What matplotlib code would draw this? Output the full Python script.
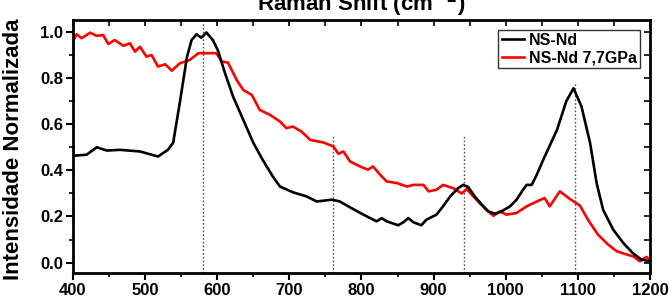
import matplotlib
matplotlib.use("Agg")
import matplotlib.pyplot as plt
from matplotlib.ticker import MultipleLocator

plt.rcParams['font.family'] = ['Liberation Sans', 'DejaVu Sans']

# NS-Nd (black)
x_black = [400, 419, 433, 447, 465, 493, 518, 532, 539, 548, 558, 564.5, 571.5, 578, 585,
           594, 601, 611, 622, 636, 650, 663, 677, 687, 705, 724, 738, 759, 770, 784,
           798, 809, 821, 828, 835, 851, 858, 865, 872, 883, 890, 904, 913, 923, 934,
           941, 948, 957, 967, 976, 985, 994, 1006, 1015, 1024, 1029, 1036, 1043, 1052,
           1071, 1084, 1094, 1105, 1117, 1126, 1135, 1149, 1163, 1176, 1188, 1200]
y_black = [0.463, 0.468, 0.50, 0.486, 0.489, 0.482, 0.46, 0.49, 0.52, 0.69, 0.89, 0.965, 0.99,
           0.975, 0.998, 0.965, 0.92, 0.82, 0.72, 0.62, 0.52, 0.446, 0.374, 0.33, 0.305,
           0.287, 0.265, 0.273, 0.265, 0.24, 0.216, 0.198, 0.179, 0.193, 0.179, 0.162,
           0.175, 0.193, 0.175, 0.162, 0.186, 0.208, 0.244, 0.287, 0.323, 0.337, 0.328,
           0.287, 0.251, 0.222, 0.212, 0.222, 0.244, 0.273, 0.316, 0.337, 0.337, 0.381,
           0.446, 0.575, 0.70, 0.756, 0.677, 0.518, 0.345, 0.229, 0.143, 0.085, 0.042,
           0.013, 0.006]

# NS-Nd 7,7GPa (red)
x_red = [400, 405, 412, 424, 433, 442, 449, 458, 470, 479, 486, 493, 502, 509, 518, 528,
         537, 548, 562, 574, 585, 599, 606, 615, 627, 636, 648, 659, 673, 687, 696, 705,
         717, 729, 747, 761, 768, 775, 784, 798, 809, 816, 826, 835, 849, 863, 872, 886,
         893, 904, 913, 927, 939, 946, 955, 964, 973, 983, 992, 1001, 1015, 1029, 1043,
         1054, 1061, 1075, 1089, 1103, 1114, 1128, 1142, 1154, 1168, 1177, 1186, 1195, 1200]
y_red = [0.958, 0.99, 0.973, 0.997, 0.983, 0.987, 0.948, 0.965, 0.94, 0.951, 0.915, 0.936,
         0.893, 0.90, 0.85, 0.86, 0.832, 0.864, 0.879, 0.908, 0.908, 0.908, 0.872, 0.867,
         0.792, 0.749, 0.727, 0.662, 0.641, 0.612, 0.583, 0.59, 0.568, 0.532, 0.521,
         0.504, 0.472, 0.482, 0.439, 0.417, 0.403, 0.417, 0.381, 0.352, 0.345, 0.33,
         0.337, 0.337, 0.309, 0.316, 0.337, 0.323, 0.30, 0.319, 0.287, 0.258, 0.229,
         0.203, 0.222, 0.208, 0.215, 0.244, 0.265, 0.28, 0.244, 0.309, 0.276, 0.247,
         0.186, 0.121, 0.078, 0.049, 0.035, 0.027, 0.006, 0.025, 0.012]

# reference peak markers
peak_x = [580, 760, 942, 1096]
peak_top = [1.04, 0.55, 0.55, 0.78]

x_ticks = [400, 500, 600, 700, 800, 900, 1000, 1100, 1200]
y_ticks = [0.0, 0.2, 0.4, 0.6, 0.8, 1.0]

fig = plt.figure(figsize=(6.69, 3.01), dpi=100)
ax = fig.add_axes([0.109, 0.093, 0.8626, 0.8406])

ymin, ymax = -0.045, 1.052
for px, pt in zip(peak_x, peak_top):
    ax.vlines(px, ymin, pt, colors='#555555', linestyles=(0, (1.2, 1.5)), linewidth=1.0, zorder=1)

ax.plot(x_black, y_black, color='black', lw=1.9, label='NS-Nd', zorder=3)
ax.plot(x_red, y_red, color='#ff0000', lw=1.9, label='NS-Nd 7,7GPa', zorder=2)

ax.set_xlim(400, 1200)
ax.set_ylim(ymin, ymax)
ax.set_xticks(x_ticks)
ax.set_yticks(y_ticks)
ax.xaxis.set_minor_locator(MultipleLocator(50))
ax.yaxis.set_minor_locator(MultipleLocator(0.1))
ax.set_yticklabels([f"{v:.1f}" for v in y_ticks])

for lab in ax.get_xticklabels() + ax.get_yticklabels():
    lab.set_fontweight('bold')
    lab.set_fontsize(12)

ax.tick_params(which='major', direction='out', length=5, width=1.5, pad=2)
ax.tick_params(which='minor', direction='out', length=3, width=1.2)
for spine in ax.spines.values():
    spine.set_linewidth(2.0)

# top/right ticks point inward
ax2 = ax.secondary_xaxis('top')
ax2.set_xticks(list(range(400, 1201, 50)))
ax2.set_xticklabels([])
ax2.tick_params(direction='in', length=4, width=1.2)
ax3 = ax.secondary_yaxis('right')
ax3.set_yticks([v / 10 for v in range(0, 11)])
ax3.set_yticklabels([])
ax3.tick_params(direction='in', length=4, width=1.2)

ax.set_ylabel('Intensidade Normalizada', fontsize=16, fontweight='bold')
ax.yaxis.set_label_coords(-0.085, 0.49)

fig.text(0.54, 0.962, 'Raman Shift (cm$^{\\mathbf{-1}}$)', ha='center', va='baseline',
         fontsize=16, fontweight='bold')

leg = ax.legend(loc='upper right', bbox_to_anchor=(0.988, 0.975), frameon=True, fancybox=False,
                edgecolor='black', handlelength=1.4, handletextpad=0.3, borderpad=0.2,
                labelspacing=0.15, borderaxespad=0.2, prop={'weight': 'bold', 'size': 11.5})
leg.get_frame().set_linewidth(1.0)

fig.savefig('out.png', dpi=100)
